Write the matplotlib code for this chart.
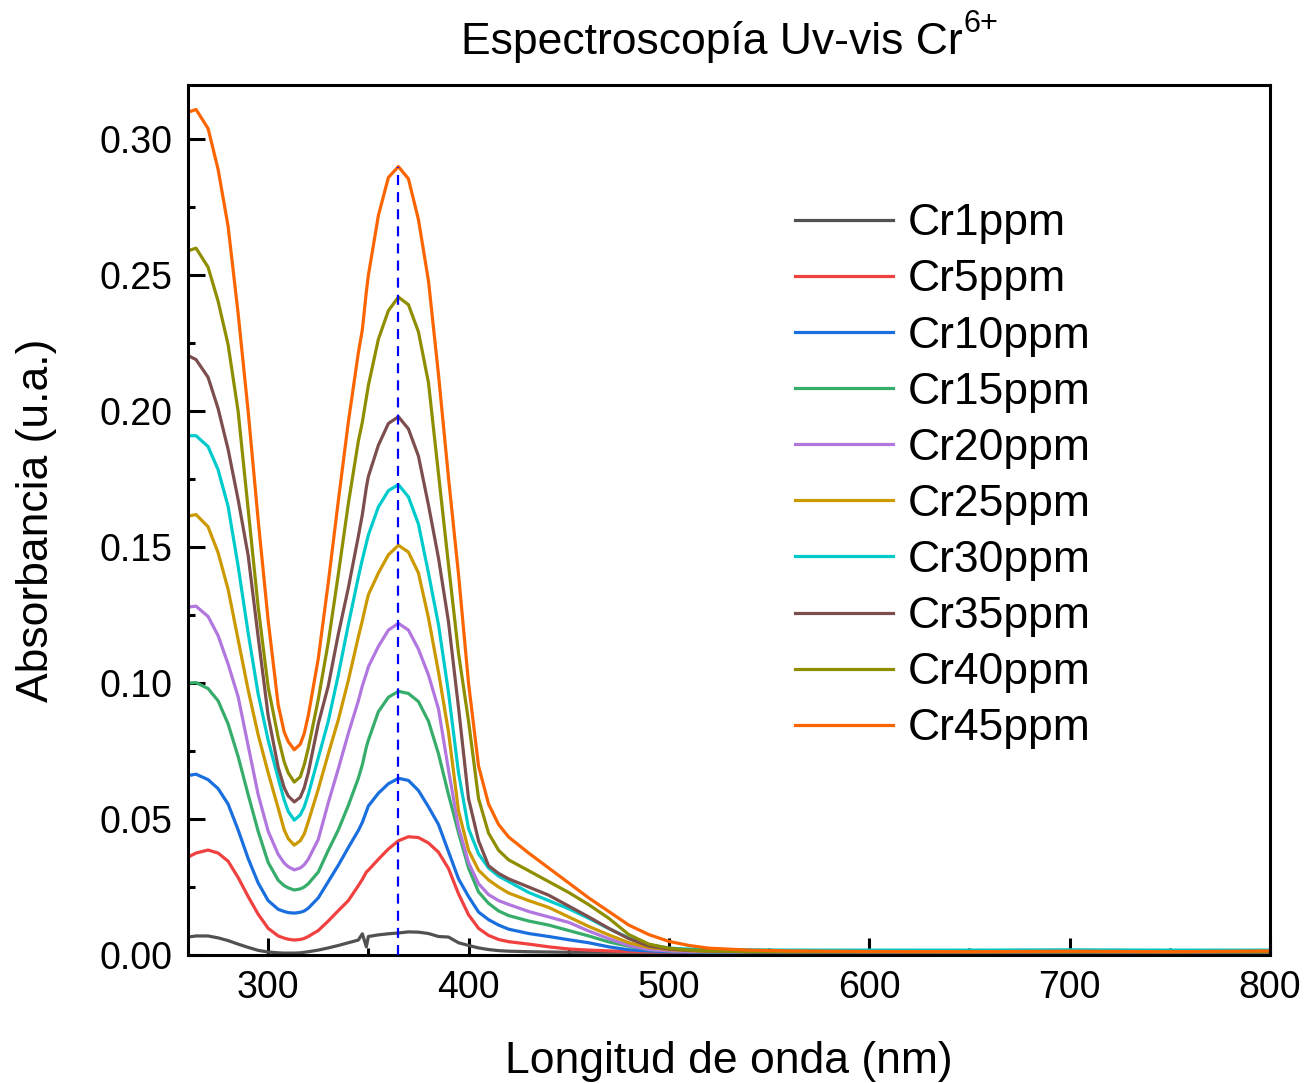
import numpy as np
import matplotlib
matplotlib.use("Agg")
import matplotlib.pyplot as plt
from matplotlib.ticker import MultipleLocator, FormatStrFormatter

plt.rcParams['font.family'] = ['Liberation Sans', 'DejaVu Sans']

# Longitud de onda (nm)
wl = [260, 264, 270, 275, 280, 285, 290, 295, 300, 305, 308, 310, 313, 316, 318, 320, 325,
      330, 335, 340, 345, 347, 349, 350, 355, 360, 365, 370, 375, 380, 385, 390,
      395, 400, 405, 410, 415, 420, 430, 440, 450, 460, 470, 480, 490, 500, 510,
      520, 540, 560, 600, 650, 700, 750, 800]

# Absorbancia
cr1 = [0.0066, 0.0070, 0.0070, 0.0063, 0.0053, 0.0040, 0.0028, 0.0017, 0.0011, 0.0008,
       0.0007, 0.0007, 0.0007, 0.0008, 0.0010, 0.0012, 0.0018, 0.0026, 0.0035, 0.0045, 0.0055, 0.0078,
       0.0030, 0.0068, 0.0074, 0.0078, 0.0081, 0.0085, 0.0084, 0.0079, 0.0068, 0.0066,
       0.0045, 0.0035, 0.0026, 0.0020, 0.0016, 0.0014, 0.0012, 0.0011, 0.0010, 0.0010,
       0.0010, 0.0010, 0.0010, 0.0010, 0.0010, 0.0010, 0.0010, 0.0010, 0.0010, 0.0010,
       0.0010, 0.0010, 0.0010]
cr5 = [0.0360, 0.0375, 0.0386, 0.0375, 0.0345, 0.0285, 0.0215, 0.0150, 0.0098, 0.0070,
       0.0062, 0.0058, 0.0055, 0.0057, 0.0061, 0.0068, 0.0090, 0.0125, 0.0163, 0.0200, 0.0255, 0.0278,
       0.0305, 0.0312, 0.0352, 0.0390, 0.0420, 0.0435, 0.0432, 0.0412, 0.0378, 0.0318,
       0.0225, 0.0148, 0.0098, 0.0072, 0.0057, 0.0049, 0.0040, 0.0030, 0.0022, 0.0018,
       0.0015, 0.0013, 0.0012, 0.0011, 0.0011, 0.0010, 0.0010, 0.0010, 0.0010, 0.0010,
       0.0010, 0.0010, 0.0010]
cr10 = [0.0660, 0.0665, 0.0645, 0.0612, 0.0555, 0.0460, 0.0355, 0.0265, 0.0200, 0.0168,
        0.0160, 0.0156, 0.0154, 0.0157, 0.0162, 0.0172, 0.0210, 0.0270, 0.0330, 0.0395, 0.0458, 0.0488,
        0.0528, 0.0548, 0.0595, 0.0630, 0.0650, 0.0642, 0.0605, 0.0545, 0.0480, 0.0380,
        0.0280, 0.0215, 0.0158, 0.0130, 0.0110, 0.0095, 0.0079, 0.0068, 0.0056, 0.0045,
        0.0030, 0.0019, 0.0015, 0.0012, 0.0011, 0.0010, 0.0010, 0.0010, 0.0010, 0.0010,
        0.0010, 0.0010, 0.0010]
cr15 = [0.1000, 0.1002, 0.0980, 0.0935, 0.0850, 0.0730, 0.0590, 0.0455, 0.0340, 0.0275,
        0.0255, 0.0247, 0.0239, 0.0243, 0.0250, 0.0262, 0.0305, 0.0385, 0.0460, 0.0550, 0.0650, 0.0700,
        0.0765, 0.0790, 0.0895, 0.0948, 0.0970, 0.0962, 0.0932, 0.0860, 0.0740, 0.0590,
        0.0450, 0.0320, 0.0232, 0.0190, 0.0162, 0.0145, 0.0125, 0.0110, 0.0090, 0.0070,
        0.0048, 0.0032, 0.0020, 0.0015, 0.0013, 0.0012, 0.0012, 0.0012, 0.0012, 0.0012,
        0.0012, 0.0012, 0.0012]
cr20 = [0.1280, 0.1283, 0.1245, 0.1175, 0.1070, 0.0950, 0.0770, 0.0590, 0.0455, 0.0370,
        0.0338, 0.0325, 0.0313, 0.0320, 0.0332, 0.0352, 0.0425, 0.0560, 0.0685, 0.0815, 0.0935, 0.0990,
        0.1035, 0.1060, 0.1135, 0.1195, 0.1220, 0.1195, 0.1125, 0.1030, 0.0905, 0.0680,
        0.0470, 0.0340, 0.0262, 0.0222, 0.0200, 0.0186, 0.0160, 0.0140, 0.0120, 0.0088,
        0.0060, 0.0035, 0.0020, 0.0015, 0.0013, 0.0012, 0.0012, 0.0012, 0.0012, 0.0012,
        0.0012, 0.0012, 0.0012]
cr25 = [0.1614, 0.1620, 0.1575, 0.1480, 0.1345, 0.1160, 0.0975, 0.0810, 0.0670, 0.0540,
        0.0460, 0.0428, 0.0404, 0.0420, 0.0445, 0.0490, 0.0610, 0.0740, 0.0865, 0.1010, 0.1170, 0.1230,
        0.1295, 0.1325, 0.1405, 0.1472, 0.1507, 0.1482, 0.1405, 0.1240, 0.1040, 0.0820,
        0.0530, 0.0385, 0.0312, 0.0276, 0.0250, 0.0228, 0.0200, 0.0175, 0.0140, 0.0105,
        0.0074, 0.0045, 0.0028, 0.0020, 0.0016, 0.0013, 0.0013, 0.0013, 0.0013, 0.0013,
        0.0013, 0.0013, 0.0013]
cr30 = [0.1910, 0.1910, 0.1870, 0.1785, 0.1650, 0.1430, 0.1185, 0.0960, 0.0790, 0.0650,
        0.0570, 0.0528, 0.0496, 0.0515, 0.0545, 0.0590, 0.0725, 0.0860, 0.1030, 0.1215, 0.1390, 0.1455,
        0.1515, 0.1545, 0.1648, 0.1708, 0.1730, 0.1685, 0.1585, 0.1405, 0.1215, 0.0965,
        0.0670, 0.0465, 0.0372, 0.0320, 0.0290, 0.0270, 0.0230, 0.0200, 0.0170, 0.0135,
        0.0097, 0.0063, 0.0038, 0.0025, 0.0022, 0.0020, 0.0019, 0.0018, 0.0018, 0.0018,
        0.0019, 0.0018, 0.0018]
cr35 = [0.2205, 0.2190, 0.2125, 0.2010, 0.1860, 0.1675, 0.1470, 0.1170, 0.0880, 0.0690,
        0.0615, 0.0585, 0.0563, 0.0580, 0.0615, 0.0670, 0.0850, 0.0990, 0.1180, 0.1350, 0.1540, 0.1620,
        0.1720, 0.1760, 0.1875, 0.1955, 0.1980, 0.1935, 0.1835, 0.1655, 0.1460, 0.1225,
        0.0910, 0.0575, 0.0420, 0.0328, 0.0300, 0.0280, 0.0250, 0.0220, 0.0180, 0.0140,
        0.0098, 0.0060, 0.0033, 0.0022, 0.0017, 0.0015, 0.0012, 0.0012, 0.0012, 0.0012,
        0.0012, 0.0012, 0.0012]
cr40 = [0.2590, 0.2600, 0.2530, 0.2405, 0.2245, 0.2000, 0.1640, 0.1280, 0.0985, 0.0800,
        0.0710, 0.0670, 0.0636, 0.0655, 0.0700, 0.0760, 0.0940, 0.1150, 0.1400, 0.1660, 0.1890, 0.1960,
        0.2050, 0.2095, 0.2265, 0.2370, 0.2420, 0.2392, 0.2292, 0.2105, 0.1770, 0.1435,
        0.1110, 0.0860, 0.0575, 0.0448, 0.0385, 0.0350, 0.0310, 0.0270, 0.0230, 0.0185,
        0.0135, 0.0075, 0.0040, 0.0025, 0.0018, 0.0015, 0.0012, 0.0012, 0.0012, 0.0012,
        0.0012, 0.0012, 0.0012]
cr45 = [0.3100, 0.3110, 0.3040, 0.2890, 0.2680, 0.2360, 0.2000, 0.1600, 0.1230, 0.0920,
        0.0820, 0.0785, 0.0755, 0.0775, 0.0815, 0.0880, 0.1090, 0.1370, 0.1670, 0.1960, 0.2215, 0.2300,
        0.2440, 0.2500, 0.2720, 0.2860, 0.2900, 0.2855, 0.2705, 0.2480, 0.2135, 0.1755,
        0.1400, 0.1000, 0.0695, 0.0555, 0.0480, 0.0434, 0.0375, 0.0320, 0.0265, 0.0210,
        0.0160, 0.0110, 0.0075, 0.0050, 0.0035, 0.0025, 0.0018, 0.0015, 0.0013, 0.0012,
        0.0014, 0.0012, 0.0015]

series = [cr1, cr5, cr10, cr15, cr20, cr25, cr30, cr35, cr40, cr45]
labels = ['Cr1ppm', 'Cr5ppm', 'Cr10ppm', 'Cr15ppm', 'Cr20ppm',
          'Cr25ppm', 'Cr30ppm', 'Cr35ppm', 'Cr40ppm', 'Cr45ppm']
colors = ['#515151', '#F14040', '#1A6FDF', '#37AD6B', '#B177DE',
          '#CC9900', '#00CBCC', '#7D4E4E', '#8E8E00', '#FB6501']
pico = 365  # longitud de onda del máximo

fig = plt.figure(figsize=(13.14, 10.83), dpi=100)
ax = fig.add_axes([0.1431, 0.1182, 0.8234, 0.8033])

for y, lab, c in zip(series, labels, colors):
    ax.plot(wl, y, color=c, lw=2.3, label=lab)

ax.vlines(pico, 0, cr45[wl.index(pico)], colors='#0000FF', lw=1.6,
          linestyles=(0, (4.5, 3.2)), zorder=5)

ax.set_xlim(260, 800)
ax.set_ylim(0, 0.32)
ax.xaxis.set_major_locator(MultipleLocator(100))
ax.xaxis.set_minor_locator(MultipleLocator(50))
ax.yaxis.set_major_locator(MultipleLocator(0.05))
ax.yaxis.set_minor_locator(MultipleLocator(0.025))
ax.yaxis.set_major_formatter(FormatStrFormatter('%.2f'))

ax.tick_params(which='both', direction='in', width=2.2, labelsize=27, pad=11)
ax.tick_params(which='major', length=12)
ax.tick_params(which='minor', length=5)
for s in ax.spines.values():
    s.set_linewidth(2.2)

ax.set_xlabel('Longitud de onda (nm)', fontsize=32, labelpad=25)
ax.set_ylabel('Absorbancia (u.a.)', fontsize=32, labelpad=31)
tt = ax.set_title('Espectroscopía Uv-vis Cr', fontsize=32, pad=22, x=0.484)
ax.annotate('6+', xy=(1, 1), xycoords=tt, xytext=(0.5, 9),
            textcoords='offset points', ha='left', va='top', fontsize=22)

ax.legend(loc='upper left', bbox_to_anchor=(0.561, 0.864), frameon=False,
          fontsize=32, handlelength=2.2, handletextpad=0.34, labelspacing=0.34,
          borderpad=0, borderaxespad=0)

fig.savefig('out.png', dpi=100)
